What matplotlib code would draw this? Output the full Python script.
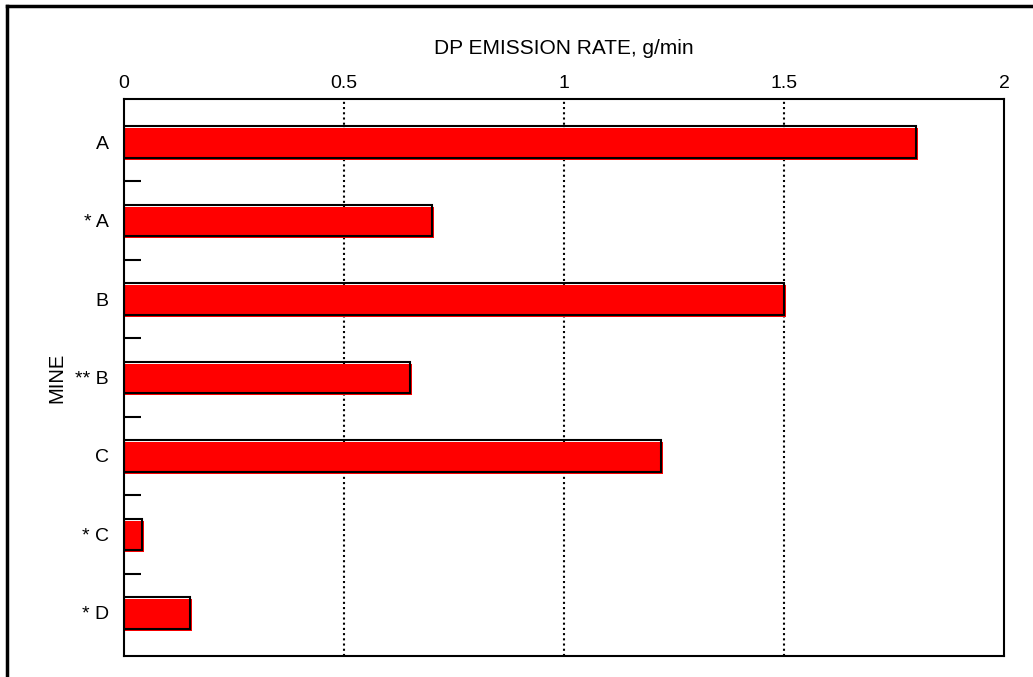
import numpy as np
import matplotlib.pyplot as plt
from matplotlib.lines import Line2D
from matplotlib.ticker import FixedLocator

plt.rcParams['font.family'] = ['Liberation Sans', 'DejaVu Sans']

# DP emission rate per mine, g/min
mines = ['A', '* A', 'B', '** B', 'C', '* C', '* D']
rates = [1.80, 0.70, 1.50, 0.65, 1.22, 0.04, 0.15]

fig = plt.figure(figsize=(10.33, 6.77), dpi=100)
ax = fig.add_axes([124/1033, 1-656/677, 880/1033, 557/677])

y = np.arange(len(mines))
h = 0.40

# red fill shifted a bit right/down, black outline on top
ax.barh(y + 0.025, np.array(rates) + 0.005, height=h, color='#ff0000',
        edgecolor='none', zorder=2)
ax.barh(y, rates, height=h, facecolor='none', edgecolor='black',
        linewidth=1.5, zorder=3)

ax.set_xlim(0, 2)
ax.set_ylim(len(mines) - 0.45, -0.55)
ax.set_xticks([0, 0.5, 1, 1.5, 2])
ax.set_xticklabels(['0', '0.5', '1', '1.5', '2'])
ax.xaxis.tick_top()
ax.xaxis.set_label_position('top')
ax.tick_params(axis='x', length=0, pad=5, labelsize=14)

ax.set_yticks(y)
ax.set_yticklabels(mines)
ax.yaxis.set_minor_locator(FixedLocator(y[:-1] + 0.5))
ax.tick_params(axis='y', which='major', length=0, pad=11, labelsize=14)
ax.tick_params(axis='y', which='minor', direction='in', length=12, width=1.5)

for v in [0.5, 1, 1.5]:
    ax.axvline(v, color='black', linestyle=(0, (1, 1.5)), linewidth=1.5, zorder=1)

for s in ax.spines.values():
    s.set_linewidth(1.5)

ax.set_xlabel('DP EMISSION RATE, g/min', fontsize=15, labelpad=15)
ax.set_ylabel('MINE', fontsize=14.5, labelpad=6)

# outer frame (left and top)
fig.add_artist(Line2D([7/1033, 7/1033], [0, 1-6/677], transform=fig.transFigure,
                      color='black', linewidth=2.5))
fig.add_artist(Line2D([7/1033, 1], [1-6/677, 1-6/677], transform=fig.transFigure,
                      color='black', linewidth=2.5))

fig.savefig('out.png', dpi=100)
